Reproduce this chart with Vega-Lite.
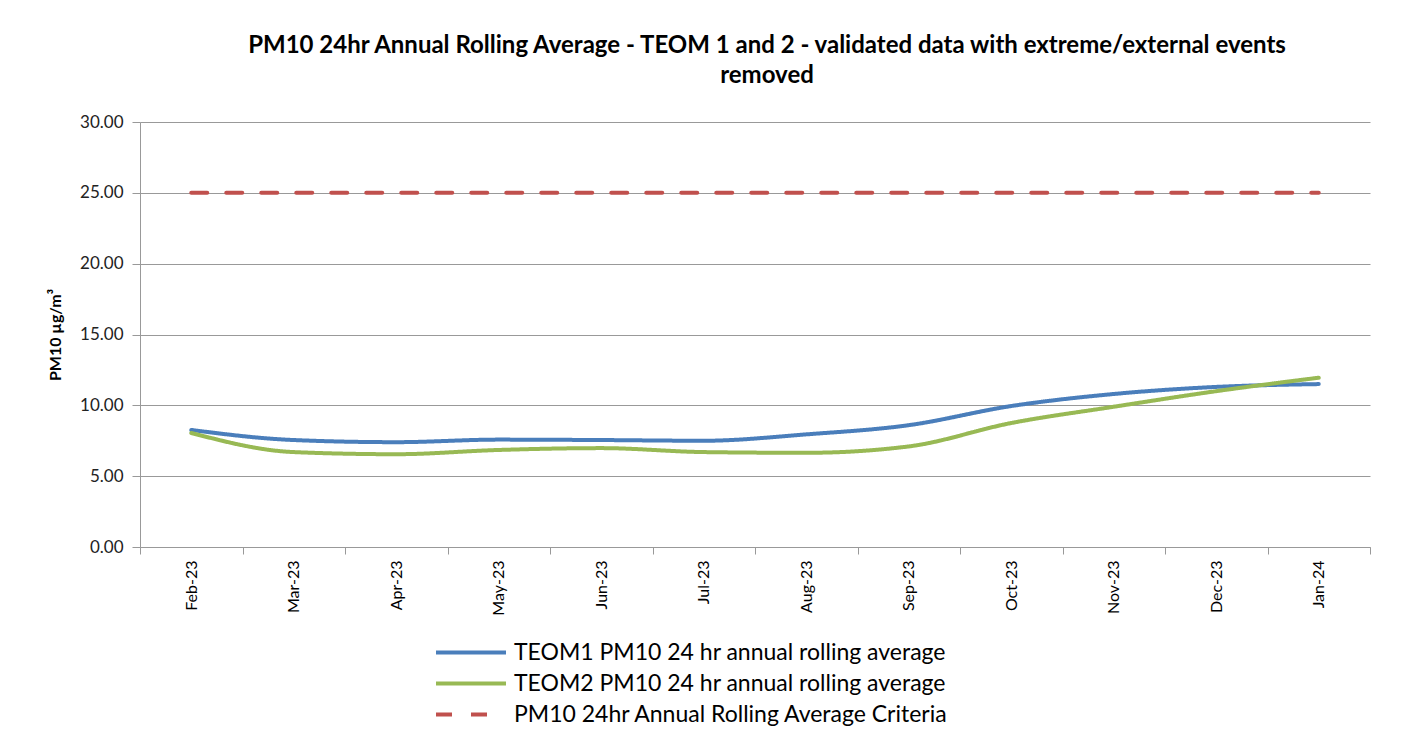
{
  "$schema": "https://vega.github.io/schema/vega-lite/v6.json",
  "width": 1230,
  "height": 425,
  "autosize": {"type": "none"},
  "padding": {"left": 140, "top": 122, "right": 32, "bottom": 191},
  "background": "white",
  "title": {
    "text": ["PM10 24hr Annual Rolling Average - TEOM 1 and 2 - validated data with extreme/external events", "removed"],
    "font": "Lato",
    "fontSize": 24,
    "fontWeight": "bold",
    "color": "#000000",
    "anchor": "middle",
    "dx": 12,
    "offset": 25,
    "lineHeight": 30
  },
  "data": {
    "values": [
      {"month": "Feb-23", "series": "TEOM1 PM10 24 hr annual rolling average", "value": 8.26},
      {"month": "Mar-23", "series": "TEOM1 PM10 24 hr annual rolling average", "value": 7.55},
      {"month": "Apr-23", "series": "TEOM1 PM10 24 hr annual rolling average", "value": 7.4},
      {"month": "May-23", "series": "TEOM1 PM10 24 hr annual rolling average", "value": 7.58},
      {"month": "Jun-23", "series": "TEOM1 PM10 24 hr annual rolling average", "value": 7.55},
      {"month": "Jul-23", "series": "TEOM1 PM10 24 hr annual rolling average", "value": 7.5},
      {"month": "Aug-23", "series": "TEOM1 PM10 24 hr annual rolling average", "value": 7.95},
      {"month": "Sep-23", "series": "TEOM1 PM10 24 hr annual rolling average", "value": 8.6},
      {"month": "Oct-23", "series": "TEOM1 PM10 24 hr annual rolling average", "value": 9.95},
      {"month": "Nov-23", "series": "TEOM1 PM10 24 hr annual rolling average", "value": 10.8},
      {"month": "Dec-23", "series": "TEOM1 PM10 24 hr annual rolling average", "value": 11.3},
      {"month": "Jan-24", "series": "TEOM1 PM10 24 hr annual rolling average", "value": 11.5},
      {"month": "Feb-23", "series": "TEOM2 PM10 24 hr annual rolling average", "value": 8.05},
      {"month": "Mar-23", "series": "TEOM2 PM10 24 hr annual rolling average", "value": 6.7},
      {"month": "Apr-23", "series": "TEOM2 PM10 24 hr annual rolling average", "value": 6.55},
      {"month": "May-23", "series": "TEOM2 PM10 24 hr annual rolling average", "value": 6.85},
      {"month": "Jun-23", "series": "TEOM2 PM10 24 hr annual rolling average", "value": 6.98},
      {"month": "Jul-23", "series": "TEOM2 PM10 24 hr annual rolling average", "value": 6.7},
      {"month": "Aug-23", "series": "TEOM2 PM10 24 hr annual rolling average", "value": 6.65},
      {"month": "Sep-23", "series": "TEOM2 PM10 24 hr annual rolling average", "value": 7.1},
      {"month": "Oct-23", "series": "TEOM2 PM10 24 hr annual rolling average", "value": 8.75},
      {"month": "Nov-23", "series": "TEOM2 PM10 24 hr annual rolling average", "value": 9.9},
      {"month": "Dec-23", "series": "TEOM2 PM10 24 hr annual rolling average", "value": 11.0},
      {"month": "Jan-24", "series": "TEOM2 PM10 24 hr annual rolling average", "value": 11.95},
      {"month": "Feb-23", "series": "PM10 24hr Annual Rolling Average Criteria", "value": 25},
      {"month": "Mar-23", "series": "PM10 24hr Annual Rolling Average Criteria", "value": 25},
      {"month": "Apr-23", "series": "PM10 24hr Annual Rolling Average Criteria", "value": 25},
      {"month": "May-23", "series": "PM10 24hr Annual Rolling Average Criteria", "value": 25},
      {"month": "Jun-23", "series": "PM10 24hr Annual Rolling Average Criteria", "value": 25},
      {"month": "Jul-23", "series": "PM10 24hr Annual Rolling Average Criteria", "value": 25},
      {"month": "Aug-23", "series": "PM10 24hr Annual Rolling Average Criteria", "value": 25},
      {"month": "Sep-23", "series": "PM10 24hr Annual Rolling Average Criteria", "value": 25},
      {"month": "Oct-23", "series": "PM10 24hr Annual Rolling Average Criteria", "value": 25},
      {"month": "Nov-23", "series": "PM10 24hr Annual Rolling Average Criteria", "value": 25},
      {"month": "Dec-23", "series": "PM10 24hr Annual Rolling Average Criteria", "value": 25},
      {"month": "Jan-24", "series": "PM10 24hr Annual Rolling Average Criteria", "value": 25}
    ]
  },
  "mark": {"type": "line", "interpolate": "monotone", "strokeWidth": 4, "strokeCap": "round"},
  "encoding": {
    "x": {
      "field": "month",
      "type": "ordinal",
      "sort": null,
      "bandPosition": 0.5,
      "scale": {"type": "band", "paddingInner": 0, "paddingOuter": 0},
      "axis": {
        "title": null,
        "labelAngle": 270,
        "labelFont": "Lato",
        "labelFontSize": 16,
        "labelColor": "#000000",
        "labelPadding": 6,
        "tickBand": "extent",
        "tickColor": "#999999",
        "tickSize": 7,
        "domainColor": "#999999",
        "grid": false
      }
    },
    "y": {
      "field": "value",
      "type": "quantitative",
      "scale": {"domain": [0, 30]},
      "axis": {
        "title": "PM10 µg/m³",
        "titleFont": "Lato",
        "titleFontSize": 16,
        "titleFontWeight": "bold",
        "titleColor": "#000000",
        "titlePadding": 16,
        "values": [0, 5, 10, 15, 20, 25, 30],
        "format": ".2f",
        "labelFont": "Lato",
        "labelFontSize": 17,
        "labelColor": "#222222",
        "labelPadding": 9,
        "tickColor": "#999999",
        "tickSize": 8,
        "domainColor": "#999999",
        "grid": true,
        "gridColor": "#999999",
        "gridWidth": 1
      }
    },
    "color": {
      "field": "series",
      "type": "nominal",
      "sort": null,
      "scale": {
        "domain": ["TEOM1 PM10 24 hr annual rolling average", "TEOM2 PM10 24 hr annual rolling average", "PM10 24hr Annual Rolling Average Criteria"],
        "range": ["#4A7EBB", "#98B954", "#C0504D"]
      },
      "legend": {
        "title": null,
        "orient": "none",
        "legendX": 294,
        "legendY": 516,
        "direction": "vertical",
        "symbolType": "stroke",
        "symbolSize": 4900,
        "symbolStrokeWidth": 4,
        "clipHeight": 29,
        "labelLimit": 700,
        "labelFont": "Lato",
        "labelFontSize": 23,
        "labelColor": "#000000",
        "labelOffset": 6,
        "rowPadding": 2
      }
    },
    "strokeDash": {
      "field": "series",
      "type": "nominal",
      "sort": null,
      "scale": {
        "domain": ["TEOM1 PM10 24 hr annual rolling average", "TEOM2 PM10 24 hr annual rolling average", "PM10 24hr Annual Rolling Average Criteria"],
        "range": [[1, 0], [1, 0], [16, 19]]
      },
      "legend": null
    }
  },
  "config": {"view": {"stroke": null}}
}
